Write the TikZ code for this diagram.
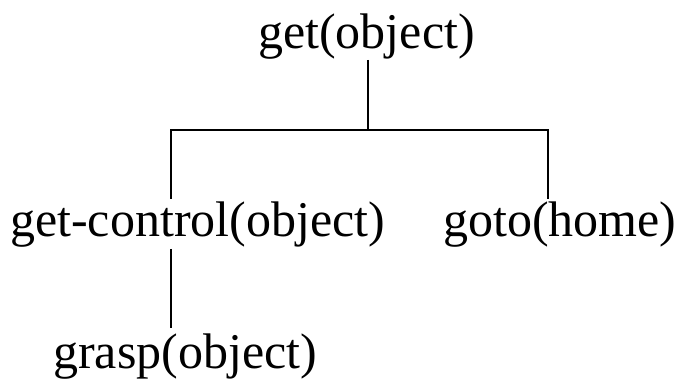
\documentclass[tikz,border=0pt]{standalone}
\usepackage{fontspec}
\setmainfont{Liberation Serif}
\begin{document}
\begin{tikzpicture}[x=1pt,y=1pt,
  lbl/.style={inner sep=0pt, anchor=base west, font=\fontsize{50}{60}\selectfont},
  conn/.style={line width=2pt}]
\useasboundingbox (0,0) rectangle (681,390);
\node[lbl] (top) at (258,341) {get(object)};
\node[lbl] (gc) at (10,153) {get-control(object)};
\node[lbl] (goto) at (443,153) {goto(home)};
\node[lbl] (grasp) at (53,21) {grasp(object)};
\coordinate (j) at (368,260);
\coordinate (jl) at (171,260);
\coordinate (jr) at (548,260);
\coordinate (gcb) at (171,141);
\draw[conn] (top.south -| j) -- (j);
\draw[conn, line cap=rect] (jl) -- (jr);
\draw[conn, shorten >=3pt] (jl) -- (jl |- gc.north);
\draw[conn, shorten >=3pt] (jr) -- (jr |- goto.north);
\draw[conn, shorten >=6pt] (gcb) -- (gcb |- grasp.north);
\end{tikzpicture}
\end{document}
